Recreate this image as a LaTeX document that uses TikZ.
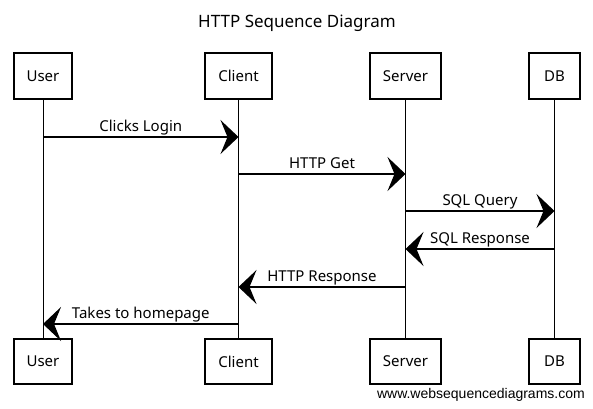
\documentclass[tikz,border=0pt]{standalone}
\usepackage{fontspec}
\setmainfont{Noto Sans}
\newfontfamily\wmfont{Liberation Sans}
\usetikzlibrary{arrows.meta}
\begin{document}
\begin{tikzpicture}[x=1pt,y=-1pt,
  actor/.style={draw, line width=1.1pt, inner sep=0pt, font=\fontsize{15}{18}\selectfont},
  life/.style={line width=0.8pt},
  msg/.style={line width=1.2pt, -{Stealth[length=18pt,width=34pt,inset=7pt]}},
  lbl/.style={font=\fontsize{15}{18}\selectfont, anchor=base, inner sep=0pt, yshift=6pt}]
\useasboundingbox[fill=white] (0,0) rectangle (593,408);

\node[font=\fontsize{17}{20}\selectfont] (title) at (297,23) {HTTP Sequence Diagram};

% top actors
\node[actor, minimum width=58pt, minimum height=46pt] (ut) at (43,76) {User};
\node[actor, minimum width=67pt, minimum height=46pt] (ct) at (238.5,76) {Client};
\node[actor, minimum width=71pt, minimum height=46pt] (st) at (405.5,76) {Server};
\node[actor, minimum width=51pt, minimum height=46pt] (dt) at (554.5,76) {DB};

% bottom actors
\node[actor, minimum width=58pt, minimum height=45pt] (ub) at (43,361.5) {User};
\node[actor, minimum width=67pt, minimum height=45pt] (cb) at (238.5,361.5) {Client};
\node[actor, minimum width=71pt, minimum height=45pt] (sb) at (405.5,361.5) {Server};
\node[actor, minimum width=51pt, minimum height=45pt] (db) at (554.5,361.5) {DB};

% lifelines
\draw[life] (ut.south) -- (ub.north);
\draw[life] (ct.south) -- (cb.north);
\draw[life] (st.south) -- (sb.north);
\draw[life] (dt.south) -- (db.north);

% message end points on the lifelines
\coordinate (u1) at (43,137);   \coordinate (c1) at (238.5,137);
\coordinate (c2) at (238.5,174); \coordinate (s2) at (405.5,174);
\coordinate (s3) at (405.5,211); \coordinate (d3) at (554.5,211);
\coordinate (d4) at (554.5,249); \coordinate (s4) at (405.5,249);
\coordinate (s5) at (405.5,287); \coordinate (c5) at (238.5,287);
\coordinate (c6) at (238.5,324); \coordinate (u6) at (43,324);

\draw[msg] (u1) -- node[lbl] {Clicks Login} (c1);
\draw[msg] (c2) -- node[lbl] {HTTP Get} (s2);
\draw[msg] (s3) -- node[lbl] {SQL Query} (d3);
\draw[msg] (d4) -- node[lbl] {SQL Response} (s4);
\draw[msg] (s5) -- node[lbl] {HTTP Response} (c5);
\draw[msg] (c6) -- node[lbl] {Takes to homepage} (u6);

\node[font=\wmfont\fontsize{14}{16}\selectfont, anchor=base east, inner sep=0pt] (wm) at (585,398) {www.websequencediagrams.com};
\end{tikzpicture}
\end{document}
